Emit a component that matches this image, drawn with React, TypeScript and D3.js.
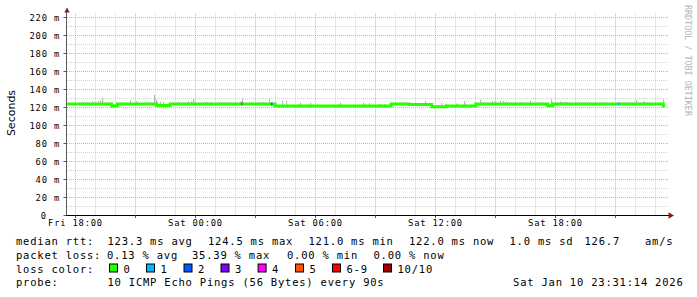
import React from "react";
import * as d3 from "d3";

const W = 697;
const H = 297;
const BASE = new Date(2026, 0, 9, 0, 0, 0).getTime(); // Fri Jan 9 2026 00:00
const toDate = (h: number) => new Date(BASE + h * 3600e3);

// view window (hours since Fri 00:00)
const viewStart = 17.575;
const viewEnd = 47.625;

// median RTT (ms), step series: hours since Fri 00:00
const medianHours = [17.58, 19.81, 20.09, 22.06, 22.73, 27.98, 33.78, 34.68, 35.81, 36.56, 38.01, 41.61, 41.86, 47.39, 47.48];
const medianValues = [124.0, 122.1, 124.0, 122.3, 124.0, 121.7, 124.0, 123.3, 121.0, 121.7, 124.0, 122.1, 124.0, 122.0, 122.0];

// smoke spikes (max ping in interval, ms)
const smokeHours = [18.33, 18.53, 18.83, 18.98, 19.13, 19.23, 19.33, 20.73, 21.03, 21.93, 22.03, 22.23, 22.38, 23.13, 23.63, 23.78, 23.88, 24.53, 24.73, 25.23, 26.23, 26.35, 26.8, 27.18, 27.38, 27.68, 28.33, 28.53, 29.23, 29.73, 31.23, 32.38, 32.68, 33.23, 33.43, 33.81, 35.51, 36.29, 36.48, 37.03, 37.44, 38.26, 38.86, 38.98, 39.23, 39.38, 39.56, 40.23, 40.76, 41.81, 42.26, 42.38, 42.56, 43.23, 43.64, 46.03, 46.38, 46.44, 47.42];
const smokeTops = [126.2, 126.0, 126.5, 126.5, 127.5, 128.0, 130.3, 128.4, 127.0, 134.0, 129.0, 126.5, 126.0, 126.0, 126.5, 127.0, 130.0, 126.5, 126.0, 126.0, 127.0, 130.0, 126.5, 126.0, 126.5, 129.5, 127.5, 128.0, 125.5, 125.5, 125.5, 125.5, 125.0, 124.0, 124.0, 124.5, 127.3, 125.0, 124.0, 124.5, 127.3, 128.8, 127.0, 127.3, 127.5, 127.3, 126.5, 126.0, 127.3, 129.2, 127.0, 126.5, 126.5, 125.5, 125.5, 128.4, 126.5, 126.5, 129.0];

// loss events
const lossHours = [26.28, 27.78, 45.14];
const lossCounts = [4, 2, 1];

const lossLabels = ["0", "1", "2", "3", "4", "5", "6-9", "10/10"];
const lossColors = ["#26ff00", "#00b8ff", "#0059ff", "#7e00ff", "#ff00ff", "#ff5500", "#ff0000", "#a10000"];

const yMajorTicks = [0, 20, 40, 60, 80, 100, 120, 140, 160, 180, 200, 220];
const yMinorTicks = [10, 30, 50, 70, 90, 110, 130, 150, 170, 190, 210];

const statsRtt = ["123.3 ms avg", "124.5 ms max", "121.0 ms min", "122.0 ms now", "1.0 ms sd", "126.7", "am/s"];
const statsLoss = ["0.13 % avg", "35.39 % max", "0.00 % min", "0.00 % now"];
const probeText = "10 ICMP Echo Pings (56 Bytes) every 90s";
const stampText = "Sat Jan 10 23:31:14 2026";

const X0 = 67;
const X1 = 668;
const Y0 = 215.5;
const YTOP = 13.3;

export default function App() {
  const x = d3.scaleTime().domain([toDate(viewStart), toDate(viewEnd)]).range([X0, X1]);
  const y = d3.scaleLinear().domain([0, 224.8]).range([Y0, YTOP]);
  const px = (v: number) => Math.floor(v) + 0.5;

  const hourTicks = x.ticks(d3.timeHour.every(1) as any);
  const labelTicks = x.ticks(d3.timeHour.every(6) as any);
  const fmt = d3.timeFormat("%a %H:%M");

  const medianData = medianHours.map((h, i) => ({ t: toDate(h), v: medianValues[i] }));
  const line = d3
    .line<{ t: Date; v: number }>()
    .x((d) => x(d.t))
    .y((d) => y(d.v))
    .curve(d3.curveStepAfter);

  const medianAt = (h: number) => {
    let idx = 0;
    for (let i = 0; i < medianHours.length; i++) if (medianHours[i] <= h) idx = i;
    return medianValues[idx];
  };
  const lossIdx = (c: number) => (c <= 5 ? c : c < 10 ? 6 : 7);

  const mono = "'DejaVu Sans Mono', monospace";
  const legendFont = { fontFamily: mono, fontSize: 10.5, letterSpacing: 0.78, whiteSpace: "pre" as const };
  const tickFont = { fontFamily: mono, fontSize: 8.8, letterSpacing: 0.8, whiteSpace: "pre" as const };

  const rttX = [108, 208.5, 309, 409.5, 510, 585, 645.5];
  const lossX = [107.5, 192.5, 287.5, 374];
  const boxX = [109, 146, 183.5, 220.5, 257.6, 295, 332, 383];
  const rows = [244.8, 258.7, 272.5, 286.3];

  return (
    <svg width={W} height={H} style={{ position: "absolute", left: 0, top: 0, background: "#fff" }}>
      <rect x={0} y={0} width={W} height={H} fill="#fff" />
      {/* horizontal grid */}
      {yMinorTicks.map((v) => (
        <line key={"hm" + v} x1={X0} x2={X1} y1={px(y(v))} y2={px(y(v))} stroke="#cfcfcf" strokeDasharray="1,1" />
      ))}
      {yMajorTicks.filter((v) => v > 0).map((v) => (
        <line key={"hM" + v} x1={X0} x2={X1} y1={px(y(v))} y2={px(y(v))} stroke="#e3a8a8" strokeDasharray="1,1" />
      ))}
      {/* vertical grid */}
      {hourTicks.map((t) => {
        const major = t.getHours() % 3 === 0;
        return (
          <line
            key={"v" + t.getTime()}
            x1={px(x(t))}
            x2={px(x(t))}
            y1={YTOP}
            y2={Y0}
            stroke={major ? "#e3a8a8" : "#cfcfcf"}
            strokeDasharray="1,1"
          />
        );
      })}
      {/* smoke */}
      {smokeHours.map((h, i) => {
        const yt = y(smokeTops[i]);
        const yb = y(medianAt(h));
        return <rect key={"s" + i} x={Math.floor(x(toDate(h)))} y={yt} width={1.2} height={Math.max(0, yb - yt)} fill="#b9b9b9" />;
      })}
      {/* median line */}
      <path d={line(medianData) || ""} fill="none" stroke={lossColors[0]} strokeWidth={3} />
      {/* loss markers */}
      {lossHours.map((h, i) => (
        <rect
          key={"l" + i}
          x={Math.floor(x(toDate(h)))}
          y={y(medianAt(h)) - 1.5}
          width={1.5}
          height={3}
          fill={lossColors[lossIdx(lossCounts[i])]}
        />
      ))}
      {/* axes */}
      <line x1={66.5} x2={66.5} y1={12} y2={Y0} stroke="#5a5a5a" />
      <line x1={66} x2={669} y1={Y0} y2={Y0} stroke="#000" />
      <path d="M64.3,12.5 L69.7,12.5 L67,7.5 Z" fill="#8b1c1c" />
      <path d="M668.5,212.3 L668.5,218.7 L674,215.5 Z" fill="#8b1c1c" />
      {yMajorTicks.map((v) => (
        <line key={"yt" + v} x1={63.5} x2={66} y1={px(y(v))} y2={px(y(v))} stroke="#5a5a5a" />
      ))}
      {hourTicks
        .filter((t) => t.getHours() % 3 === 0)
        .map((t) => (
          <line key={"xt" + t.getTime()} x1={px(x(t))} x2={px(x(t))} y1={Y0} y2={Y0 + 2.5} stroke="#5a5a5a" />
        ))}
      {/* y labels */}
      {yMajorTicks.map((v) => (
        <text key={"yl" + v} x={v === 0 ? 46.8 : 60} y={y(v) + 3.3} textAnchor="end" fill="#000" style={tickFont}>
          {v === 0 ? "0" : `${v} m`}
        </text>
      ))}
      {/* x labels */}
      {labelTicks.map((t) => (
        <text key={"xl" + t.getTime()} x={x(t)} y={226.3} textAnchor="middle" fill="#000" style={tickFont}>
          {fmt(t)}
        </text>
      ))}
      {/* axis title */}
      <text
        transform="translate(15.3,113) rotate(-90)"
        textAnchor="middle"
        fill="#000"
        style={{ fontFamily: "'DejaVu Sans', sans-serif", fontSize: 11 }}
      >
        Seconds
      </text>
      {/* watermark */}
      <text
        transform="translate(685,5) rotate(90)"
        fill="#b4b4b4"
        style={{ fontFamily: mono, fontSize: 8.4, letterSpacing: 0.0 }}
      >
        RRDTOOL / TOBI OETIKER
      </text>
      {/* legend */}
      <text x={16} y={rows[0]} fill="#000" style={legendFont}>median rtt:</text>
      {statsRtt.map((s, i) => (
        <text key={"r" + i} x={rttX[i] - 0.5} y={rows[0]} fill="#000" style={legendFont}>
          {s}
        </text>
      ))}
      <text x={16} y={rows[1]} fill="#000" style={legendFont}>packet loss:</text>
      {statsLoss.map((s, i) => (
        <text key={"p" + i} x={lossX[i] - 0.5} y={rows[1]} fill="#000" style={legendFont}>
          {s}
        </text>
      ))}
      <text x={16} y={rows[2]} fill="#000" style={legendFont}>loss color:</text>
      {lossLabels.map((s, i) => (
        <g key={"c" + i}>
          <rect x={boxX[i] + 0.5} y={rows[2] - 8.5} width={8} height={8} fill={lossColors[i]} stroke="#000" strokeWidth={1} />
          <text x={boxX[i] + 14.5} y={rows[2]} fill="#000" style={legendFont}>
            {s}
          </text>
        </g>
      ))}
      <text x={16} y={rows[3]} fill="#000" style={legendFont}>probe:</text>
      <text x={107.5} y={rows[3]} fill="#000" style={legendFont}>{probeText}</text>
      <text x={683.5} y={rows[3]} textAnchor="end" fill="#000" style={legendFont}>{stampText}</text>
    </svg>
  );
}
